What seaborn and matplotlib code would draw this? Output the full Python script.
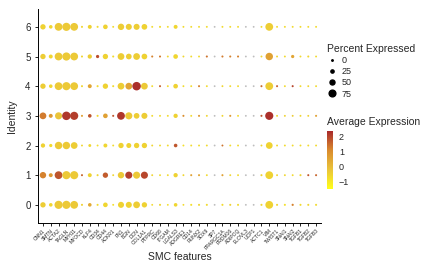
import numpy as np
import pandas as pd
import seaborn as sns
import matplotlib.pyplot as plt
from matplotlib.colors import LinearSegmentedColormap, Normalize
from matplotlib.cm import ScalarMappable
from matplotlib.lines import Line2D

sns.set_style("white")
plt.rcParams['font.family'] = ['Liberation Sans', 'DejaVu Sans']

genes = ["CNN1", "SMTN", "ACTA2", "TAGLN", "MYH11", "MYOCD", "KLF4", "CD34", "CD44",
         "ACKR1", "FN1", "BGN", "DCN", "COL1A1", "PTPRC", "CD68", "ITGAM", "LGALS3",
         "ADGRE1", "CD14", "RUNX2", "SOX9", "SP7", "PPARGC1A", "PRDM16", "ADIPOQ",
         "ELOVL3", "UCP1", "ACTC1", "VIM", "TWIST1", "SNAI1", "SNAI2", "TGFB1",
         "TGFB2", "TGFB3"]
idents = [0, 1, 2, 3, 4, 5, 6]
# genes with no expression (drawn grey)
grey_genes = ["SP7", "ELOVL3", "UCP1"]

# percent expressed, one list per identity
pct_0 = [55, 30, 95, 95, 90, 8, 30, 8, 45, 6, 65, 65, 75, 55, 5, 8, 5, 30,
         5, 8, 8, 8, 5, 8, 8, 8, 5, 5, 8, 90, 8, 8, 10, 8, 8, 8]
pct_1 = [70, 35, 90, 95, 95, 8, 35, 8, 55, 6, 70, 80, 80, 80, 6, 6, 6, 40,
         6, 8, 8, 6, 5, 8, 6, 6, 5, 5, 8, 90, 6, 6, 6, 8, 8, 8]
pct_2 = [40, 25, 85, 85, 75, 6, 20, 6, 35, 6, 55, 50, 55, 55, 6, 6, 6, 30,
         6, 6, 6, 6, 5, 6, 6, 6, 5, 5, 6, 75, 6, 6, 6, 6, 6, 6]
pct_3 = [75, 35, 80, 100, 95, 8, 30, 8, 45, 8, 90, 80, 60, 65, 6, 6, 6, 40,
         8, 6, 8, 6, 5, 6, 8, 6, 5, 5, 8, 95, 6, 6, 6, 6, 6, 8]
pct_4 = [55, 30, 90, 95, 90, 8, 35, 8, 55, 8, 75, 75, 100, 75, 6, 8, 6, 45,
         6, 6, 8, 6, 5, 6, 6, 6, 5, 5, 8, 90, 8, 6, 8, 6, 6, 6]
pct_5 = [55, 35, 90, 95, 90, 8, 40, 25, 55, 8, 75, 60, 75, 60, 8, 8, 6, 45,
         6, 6, 6, 8, 5, 8, 8, 8, 5, 5, 6, 85, 6, 6, 25, 6, 8, 6]
pct_6 = [55, 30, 90, 95, 90, 8, 35, 8, 45, 6, 70, 65, 65, 60, 6, 8, 6, 35,
         6, 6, 6, 6, 5, 6, 6, 6, 5, 5, 6, 90, 6, 6, 6, 6, 6, 6]

# average expression (scaled), one list per identity
avg_0 = [-0.4, -0.6, -0.3, -0.3, -0.3, -0.5, 0.4, -0.7, -0.6, -0.8, -0.5, -0.5, -0.4, -0.5, -0.7, -0.6, -0.8, -0.6,
         -0.7, -0.8, -0.6, -0.7, 0, -0.7, -0.5, -0.7, 0, 0, -0.6, -0.5, -0.6, -0.8, 1.2, -0.7, -0.6, -0.7]
avg_1 = [1.2, 0.8, 1.8, -0.3, -0.3, 1.6, -0.5, -0.6, 1.7, -0.6, -0.3, 2.1, -0.3, 2.0, -0.6, -0.7, -0.7, -0.5,
         -0.6, 0.6, 0.5, -0.7, 0, 0.6, -0.6, -0.7, 0, 0, -0.5, -0.5, -0.6, -0.6, -0.7, -0.5, 1.8, 1.6]
avg_2 = [-0.5, -0.7, -0.3, -0.3, -0.4, -0.6, -0.6, -0.8, -0.6, -0.7, -0.5, -0.5, -0.5, -0.5, -0.6, -0.7, -0.7, 1.8,
         -0.8, -0.7, -0.7, -0.7, 0, 1.4, -0.7, -0.7, 0, 0, -0.6, -0.5, -0.7, -0.7, -0.7, -0.7, -0.7, -0.7]
avg_3 = [1.3, 0.8, -0.2, 2.2, 2.1, 0.6, 1.8, -0.6, 0.6, 1.8, 2.2, -0.3, -0.4, -0.4, -0.7, -0.7, -0.7, -0.5,
         1.0, -0.7, 0.8, -0.6, 0, -0.6, 0.8, -0.7, 0, 0, 1.8, 2.3, -0.6, -0.5, -0.4, -0.6, -0.5, 0.6]
avg_4 = [-0.4, -0.6, -0.3, -0.3, -0.3, -0.6, 0.5, -0.7, -0.5, -0.7, -0.4, 0.5, 2.3, -0.3, -0.7, 1.6, -0.7, -0.5,
         -0.7, -0.7, 1.2, -0.7, 0, -0.6, -0.7, -0.7, 0, 0, 1.5, -0.4, 1.6, -0.7, 2.0, -0.7, -0.6, -0.7]
avg_5 = [-0.4, -0.6, -0.3, -0.3, -0.3, -0.6, -0.4, 1.9, -0.5, -0.7, -0.4, -0.4, -0.4, -0.5, 1.2, 1.3, -0.6, -0.6,
         -0.6, -0.7, -0.7, 1.4, 0, 1.3, 1.2, 1.2, 0, 0, -0.6, 0.6, -0.6, -0.7, 0.5, -0.7, -0.6, -0.7]
avg_6 = [-0.5, -0.6, -0.3, -0.3, -0.3, -0.6, -0.5, -0.7, -0.5, -0.7, -0.4, -0.4, -0.4, -0.5, -0.7, -0.7, -0.7, -0.6,
         -0.7, -0.7, -0.7, -0.7, 0, -0.7, -0.7, -0.7, 0, 0, -0.7, -0.4, -0.7, -0.7, -0.7, -0.7, -0.7, -0.7]

pct_rows = [pct_0, pct_1, pct_2, pct_3, pct_4, pct_5, pct_6]
avg_rows = [avg_0, avg_1, avg_2, avg_3, avg_4, avg_5, avg_6]

rows = []
for ident, pr, ar in zip(idents, pct_rows, avg_rows):
    for g, p, a in zip(genes, pr, ar):
        rows.append({"gene": g, "ident": ident, "pct": p, "avg": a})
df = pd.DataFrame(rows)
df["gene"] = pd.Categorical(df["gene"], categories=genes, ordered=True)


def dot_area(p):
    # radius grows linearly with percent (points^2 at dpi 100)
    d_px = 1.5 + 7.0 * p / 100
    return (d_px * 0.72) ** 2


cmap = LinearSegmentedColormap.from_list("yr", ["#FFFF1A", "#EAC43A", "#D98A2E", "#A8282B"])
vmin, vmax = -1.5, 2.4

fig = plt.figure(figsize=(4.4, 2.66), dpi=100)
ax = fig.add_axes([0.087, 0.163, 0.642, 0.803])

colored = df[~df["gene"].isin(grey_genes)]
greyed = df[df["gene"].isin(grey_genes)]
size_map = {p: dot_area(p) for p in df["pct"].unique()}

sns.scatterplot(data=colored, x="gene", y="ident", hue="avg", size="pct",
                palette=cmap, hue_norm=(vmin, vmax), sizes=size_map,
                linewidth=0, legend=False, ax=ax)
sns.scatterplot(data=greyed, x="gene", y="ident", size="pct", color="#BEBEBE",
                sizes=size_map, linewidth=0, legend=False, ax=ax)

ax.set_xlim(-0.6, len(genes) - 0.4)
ax.set_ylim(-0.6, 6.6)
ax.set_xticks(range(len(genes)))
ax.set_xticklabels(genes, rotation=45, ha="right", rotation_mode="anchor", fontsize=3.6)
ax.set_yticks(idents)
ax.set_yticklabels([str(i) for i in idents], fontsize=7)
ax.tick_params(axis="both", length=2.5, width=0.6, color="black", pad=1.5, bottom=True, left=True)
ax.tick_params(axis="y", pad=3)
for side in ["top", "right"]:
    ax.spines[side].set_visible(False)
for side in ["left", "bottom"]:
    ax.spines[side].set_color("black")
    ax.spines[side].set_linewidth(0.7)
ax.set_xlabel("SMC features", fontsize=7.5, labelpad=1)
ax.set_ylabel("Identity", fontsize=7.5, labelpad=6)
ax.grid(False)

# size legend
legend_pcts = [0, 25, 50, 75]
handles = [Line2D([], [], linestyle="none", marker="o", color="black",
                  markersize=np.sqrt(dot_area(p)), label=str(p)) for p in legend_pcts]
leg = fig.legend(handles=handles, title="Percent Expressed", loc="upper left",
                 bbox_to_anchor=(0.735, 0.85), frameon=False, fontsize=6.5,
                 title_fontsize=7.5, handletextpad=0.6, labelspacing=0.25,
                 handlelength=1.0, borderaxespad=0)
leg._legend_box.align = "left"

# colour bar
fig.text(0.743, 0.5425, "Average Expression", fontsize=7.5, va="center", ha="left")
cax = fig.add_axes([0.7425, 0.2895, 0.015, 0.219])
sm = ScalarMappable(norm=Normalize(vmin, vmax), cmap=cmap)
cb = fig.colorbar(sm, cax=cax, ticks=[-1, 0, 1, 2])
cb.outline.set_visible(False)
cb.ax.set_yticklabels(["\u22121", "0", "1", "2"])
cb.ax.tick_params(labelsize=6.5, length=2, color="white", direction="in", pad=4)

fig.savefig("out.png", dpi=100)
